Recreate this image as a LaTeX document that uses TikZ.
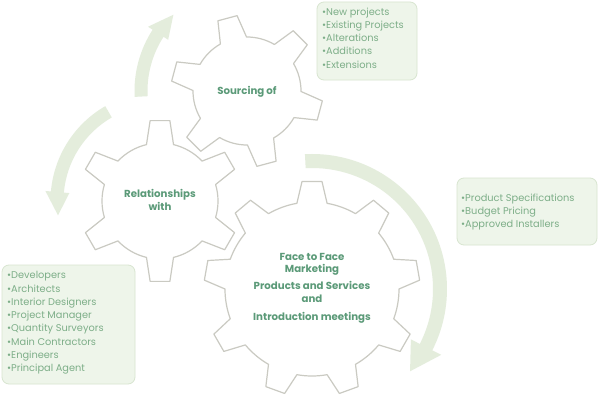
\documentclass[tikz,border=0pt]{standalone}
\usepackage{fontspec}
\setmainfont{Poppins}
\usetikzlibrary{calc}
\definecolor{gearline}{HTML}{CACAC2}
\definecolor{arrowfill}{HTML}{E4EDDC}
\definecolor{boxfill}{HTML}{EEF5EA}
\definecolor{boxline}{HTML}{D8E5D0}
\definecolor{labelgreen}{HTML}{5B9A78}
\definecolor{bulletgreen}{HTML}{7DAE88}
\tikzset{
  gearshape/.style={draw=gearline, line width=1.2pt, line join=round},
  arcarrowstyle/.style={fill=arrowfill, draw=none},
  infobox/.style={fill=boxfill, draw=boxline, line width=0.8pt, rounded corners=7pt},
  bullettext/.style={text=bulletgreen, font=\fontsize{9.8}{13.3}\selectfont, align=left, anchor=west, inner sep=0pt},
  gearlabel/.style={text=labelgreen, font=\bfseries\fontsize{10.2}{12.8}\selectfont, align=center, inner sep=0pt},
}
% #1 name, #2 cx, #3 cy, #4 teeth, #5 first tooth angle, #6 outer R, #7 root r, #8 tip half angle, #9 base half angle
\newcommand\mygear[9]{%
  \coordinate (#1) at (#2,#3);
  \pgfmathsetmacro\gstep{360/#4}
  \draw[gearshape, shift={(#2,#3)}] ({#5-#9}:#7)
    \foreach \k in {1,...,#4}{
      -- ({#5+(\k-1)*\gstep-#8}:#6) -- ({#5+(\k-1)*\gstep+#8}:#6) -- ({#5+(\k-1)*\gstep+#9}:#7)
      arc[start angle={#5+(\k-1)*\gstep+#9}, end angle={#5+\k*\gstep-#9}, radius=#7]
    } -- cycle;
}
% #1 cx, #2 cy, #3 R, #4 half shaft, #5 half head, #6 start angle, #7 head base angle, #8 tip angle
\newcommand\myarcarrow[8]{%
  \fill[arcarrowstyle, shift={(#1,#2)}] ({#6}:{#3+#4}) arc[start angle={#6}, end angle={#7}, radius={#3+#4}]
    -- ({#7}:{#3+#5}) -- ({#8}:{#3}) -- ({#7}:{#3-#5}) -- ({#7}:{#3-#4})
    arc[start angle={#7}, end angle={#6}, radius={#3-#4}] -- cycle;
}
\begin{document}
\begin{tikzpicture}[x=1pt,y=1pt]
\useasboundingbox[fill=white] (0,0) rectangle (600,400);
% arrows
\myarcarrow{312}{111}{128}{7}{17}{93}{-27}{-40}
\myarcarrow{247}{309}{106}{6.5}{12}{183}{147}{134}
\myarcarrow{160}{199}{103}{6.5}{12}{120}{175}{188}
% boxes
\draw[infobox] (317,398) rectangle (417,320);
\draw[infobox] (457,222) rectangle (597,155);
\draw[infobox] (2,135) rectangle (135,16);
% gears
\mygear{g1}{312}{111}{9}{90}{108}{87}{5.3}{10}
\mygear{g2}{247}{309}{6}{45}{76}{54}{7.5}{14.5}
\mygear{g3}{160}{199}{6}{30}{81}{58}{7}{13.5}
% labels
\node[gearlabel] (l1) at (312,112) {Face to Face\\Marketing\\[4pt]Products and Services\\and\\[5pt]Introduction meetings};
\node[gearlabel] (l2) at (247,308) {Sourcing of};
\node[gearlabel] (l3) at (160,200) {Relationships\\with};
\node[bullettext] (t1) at (322,362) {•New projects\\•Existing Projects\\•Alterations\\•Additions\\•Extensions};
\node[bullettext] (t2) at (461,188) {•Product Specifications\\•Budget Pricing\\•Approved Installers};
\node[bullettext] (t3) at (7,77) {•Developers\\•Architects\\•Interior Designers\\•Project Manager\\•Quantity Surveyors\\•Main Contractors\\•Engineers\\•Principal Agent};
\end{tikzpicture}
\end{document}
